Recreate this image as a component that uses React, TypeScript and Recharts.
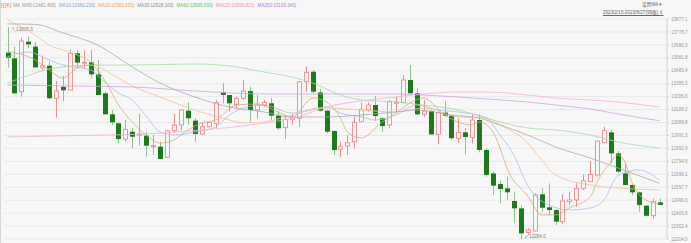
import { ComposedChart, Bar, Line, XAxis, YAxis, CartesianGrid } from "recharts";

// daily K data, 2023/2/15 - 2023/6/27 (95 candles)
const opens = [
  13621, 13578, 13324, 13705, 13667, 13507, 13522, 13274, 13362, 13337,
  13616, 13545, 13548, 13456, 13312, 13152, 13084, 12964, 13020, 12995,
  12990, 12911, 12906, 12825, 13028, 13071, 13180, 13104, 13002, 13058,
  13084, 13319, 13299, 13228, 13274, 13329, 13185, 13223, 13236, 13142,
  13051, 13114, 13122, 13400, 13476, 13319, 13180, 13025, 12886, 12911,
  12944, 13096, 13185, 13223, 13122, 13071, 13236, 13243, 13413, 13312,
  13152, 13177, 13000, 13165, 13142, 12970, 13015, 12975, 13109, 12881,
  12703, 12622, 12589, 12493, 12437, 12254, 12265, 12544, 12445, 12424,
  12336, 12488, 12501, 12589, 12640, 12691, 12936, 13015, 12855, 12703,
  12615, 12559, 12457, 12381, 12483,
];
const highs = [
  13815, 13667, 13735, 13743, 13705, 13598, 13553, 13406, 13446, 13646,
  13641, 13640, 13641, 13565, 13325, 13185, 13091, 13109, 13046, 13155,
  13020, 12995, 12944, 13033, 13155, 13185, 13243, 13122, 13091, 13091,
  13261, 13388, 13299, 13286, 13413, 13362, 13299, 13261, 13279, 13177,
  13147, 13152, 13406, 13514, 13489, 13345, 13185, 13033, 12944, 12995,
  13134, 13243, 13243, 13291, 13134, 13261, 13286, 13451, 13527, 13350,
  13261, 13185, 13172, 13253, 13147, 13122, 13046, 13152, 13152, 12893,
  12716, 12648, 12678, 12564, 12462, 12285, 12551, 12589, 12627, 12430,
  12544, 12564, 12627, 12696, 12792, 12949, 13058, 13033, 12873, 12779,
  12615, 12564, 12462, 12513, 12513,
];
const lows = [
  13507, 13312, 13286, 13654, 13509, 13489, 13270, 13127, 13248, 13337,
  13502, 13500, 13426, 13299, 13152, 13071, 12932, 12944, 12893, 12914,
  12830, 12843, 12812, 12825, 13008, 13033, 13071, 12944, 12995, 13053,
  13046, 13236, 13172, 13198, 13261, 13096, 13122, 13210, 13109, 13033,
  12964, 13071, 13058, 13324, 13312, 13172, 13008, 12843, 12830, 12843,
  12893, 13091, 13172, 13101, 13020, 13046, 13172, 13236, 13312, 13147,
  13134, 12999, 12924, 13134, 12957, 12937, 12848, 12931, 12863, 12678,
  12538, 12475, 12501, 12323, 12204, 12234, 12260, 12412, 12386, 12310,
  12316, 12463, 12450, 12577, 12640, 12678, 12931, 12779, 12703, 12615,
  12538, 12412, 12374, 12356, 12463,
];
const closes = [
  13583, 13312, 13710, 13684, 13509, 13522, 13274, 13329, 13335, 13616,
  13545, 13548, 13456, 13299, 13152, 13091, 12964, 13038, 12982, 13002,
  12914, 12914, 12812, 13028, 13071, 13185, 13122, 13002, 13058, 13091,
  13241, 13299, 13236, 13274, 13329, 13185, 13223, 13243, 13142, 13046,
  13114, 13129, 13400, 13471, 13324, 13180, 13020, 12881, 12906, 12936,
  13091, 13190, 13223, 13139, 13063, 13248, 13246, 13413, 13312, 13152,
  13177, 12999, 13165, 13142, 12970, 13015, 12980, 13109, 12881, 12691,
  12610, 12584, 12559, 12437, 12247, 12272, 12539, 12442, 12424, 12336,
  12493, 12501, 12589, 12647, 12696, 12949, 13028, 12855, 12716, 12615,
  12559, 12463, 12381, 12488, 12463,
];

// moving averages as [candle index, value]
const ma5Pts = [
  [0, 13630], [4, 13565], [6, 13489], [8, 13428], [10, 13505], [12, 13527], [14, 13413],
  [16, 13223], [18, 13094], [20, 12995], [22, 12934], [24, 12957], [26, 13033], [28, 13086],
  [30, 13109], [33, 13223], [36, 13231], [39, 13170], [41, 13132], [44, 13276], [46, 13246],
  [48, 13124], [49, 13018], [51, 12972], [54, 13094], [56, 13162], [58, 13238], [60, 13276],
  [63, 13147], [67, 13071], [68, 13094], [70, 13018], [71, 12896], [72, 12744], [75, 12531],
  [77, 12387], [79, 12387], [81, 12440], [84, 12524], [85, 12638], [87, 12790], [88, 12843],
  [89, 12790], [90, 12638], [92, 12501], [94, 12470],
];
const ma10Pts = [
  [0, 13590], [3, 13626], [6, 13565], [8, 13527], [12, 13489], [14, 13398], [16, 13314],
  [18, 13261], [20, 13140], [22, 13018], [24, 12995], [27, 13018], [30, 13056], [32, 13147],
  [34, 13200], [37, 13223], [41, 13162], [46, 13208], [48, 13162], [51, 13132], [53, 13109],
  [56, 13147], [59, 13223], [62, 13185], [65, 13170], [69, 13124], [71, 12995], [73, 12843],
  [75, 12610], [78, 12463], [81, 12425], [84, 12440], [86, 12501], [88, 12685], [91, 12729],
  [94, 12653],
];
const ma20Pts = [
  [0, 13870], [4, 13755], [6, 13679], [8, 13641], [11, 13581], [13, 13520], [16, 13428],
  [18, 13368], [22, 13284], [27, 13185], [32, 13109], [34, 13086], [37, 13094], [41, 13147],
  [46, 13200], [51, 13185], [56, 13170], [60, 13200], [65, 13132], [69, 13124], [71, 13071],
  [75, 12934], [77, 12805], [79, 12691], [84, 12615], [88, 12592], [94, 12577],
];
const ma30Pts = [
  [0, 13840], [4, 13836], [8, 13771], [13, 13679], [18, 13512], [22, 13390], [27, 13284],
  [32, 13208], [37, 13170], [41, 13132], [46, 13132], [51, 13147], [56, 13170], [59, 13185],
  [64, 13147], [68, 13124], [71, 13071], [75, 12995], [79, 12904], [84, 12820], [88, 12744],
  [94, 12628],
];
const ma60Pts = [
  [0, 13390], [4, 13466], [6, 13497], [8, 13512], [13, 13527], [18, 13527], [27, 13535],
  [32, 13520], [37, 13474], [41, 13436], [44, 13390], [48, 13299], [51, 13261], [56, 13246],
  [60, 13223], [65, 13185], [69, 13124], [75, 13048], [79, 13033], [84, 12995], [88, 12942],
  [94, 12896],
];
const ma120Pts = [
  [0, 12980], [9, 12990], [20, 13003], [28, 13033], [35, 13071], [42, 13135], [46, 13208],
  [51, 13254], [56, 13284], [60, 13307], [65, 13322], [69, 13322], [75, 13299], [79, 13276],
  [84, 13261], [88, 13246], [94, 13207],
];
const ma250Pts = [
  [0, 13375], [9, 13368], [18, 13360], [27, 13330], [37, 13307], [46, 13307], [56, 13307],
  [60, 13299], [65, 13284], [69, 13269], [75, 13246], [79, 13223], [84, 13193], [88, 13155],
  [94, 13103],
];

const maLegend = [
  { name: "MA5", value: "12481.400", color: "#a89a8c" },
  { name: "MA10", value: "12660.200", color: "#7fa3d6" },
  { name: "MA20", value: "12581.550", color: "#f0a868" },
  { name: "MA30", value: "12628.100", color: "#8c8c8c" },
  { name: "MA60", value: "12895.930", color: "#6cc46c" },
  { name: "MA120", value: "13206.810", color: "#ee8fc0" },
  { name: "MA250", value: "13103.340", color: "#b67fcf" },
];

const maLines = [
  { key: "ma5", pts: ma5Pts, color: "#d8aa78" },
  { key: "ma10", pts: ma10Pts, color: "#a4c0e4" },
  { key: "ma20", pts: ma20Pts, color: "#f6bf92" },
  { key: "ma30", pts: ma30Pts, color: "#aaaaaa" },
  { key: "ma60", pts: ma60Pts, color: "#a6d9a6" },
  { key: "ma120", pts: ma120Pts, color: "#f4b0d4" },
  { key: "ma250", pts: ma250Pts, color: "#cfa2df" },
];

const yTicks = [
  12204.0, 12302.4, 12400.8, 12499.3, 12597.7, 12696.1, 12794.5, 12892.9, 12991.3,
  13089.8, 13188.2, 13286.6, 13385.0, 13483.4, 13581.8, 13680.3, 13778.7, 13877.1,
];

const data = opens.map((o, i) => {
  const row: any = { i, open: o, high: highs[i], low: lows[i], close: closes[i] };
  maLines.forEach((m) => {
    const p = m.pts.find((q) => q[0] === i);
    row[m.key] = p ? p[1] : null;
  });
  return row;
});

const maxHigh = Math.max(...highs);
const minLow = Math.min(...lows);

const BG = "#f7f7f7";
const UP = "#f28b8b";
const DOWN = "#1c7a1c";
const FONT = "'Liberation Sans', Arial, 'Noto Sans CJK SC', sans-serif";

const Candle = (props: any) => {
  const { x, y, width, height, payload } = props;
  const { open, close, high, low } = payload;
  const py = (v: number) => y + ((high - v) / (high - low)) * height;
  const cx = Math.round(x + width / 2) + 0.5;
  const up = close >= open;
  const top = py(Math.max(open, close));
  const bot = py(Math.min(open, close));
  const h = Math.max(bot - top, 1);
  return (
    <g>
      {up ? (
        <g>
          <line x1={cx} x2={cx} y1={py(high)} y2={top} stroke={UP} />
          <line x1={cx} x2={cx} y1={top + h} y2={py(low)} stroke={UP} />
          <rect x={cx - 2} y={top} width={4} height={h} fill={BG} stroke={UP} strokeWidth={0.9} />
        </g>
      ) : (
        <g>
          <line x1={cx} x2={cx} y1={py(high)} y2={py(low)} stroke="#8fc08f" />
          <rect x={cx - 2.5} y={top} width={5} height={h} fill={DOWN} />
        </g>
      )}
      {high === maxHigh && (
        <text x={cx + 3} y={py(high) + 4} fontSize={4.6} fill="#777" fontFamily={FONT}>
          {"↖" + maxHigh.toFixed(1)}
        </text>
      )}
      {low === minLow && (
        <text x={cx + 3} y={py(low) - 1} fontSize={4.6} fill="#777" fontFamily={FONT}>
          {"↙" + minLow.toFixed(1)}
        </text>
      )}
    </g>
  );
};

export default function App() {
  return (
    <div style={{ position: "absolute", left: 0, top: 0, width: 691, height: 243, background: BG, fontFamily: FONT }}>
      <div style={{ position: "absolute", left: 0, top: 0, bottom: 0, width: 1, background: "#d6d6d6" }} />
      <div style={{ position: "absolute", left: 1, top: 3, fontSize: 4.6, whiteSpace: "nowrap", lineHeight: "6px" }}>
        <span style={{ color: "#e8662e", marginRight: 2 }}>[日K]</span>
        <span style={{ color: "#999", marginRight: 2 }}>MA</span>
        {maLegend.map((m) => (
          <span key={m.name} style={{ color: m.color, marginRight: 3 }}>
            {m.name}:{m.value}|
          </span>
        ))}
      </div>
      <div style={{ position: "absolute", left: 642, top: 2, fontSize: 4.6, color: "#666", lineHeight: "6px" }}>
        设置MA ▾
      </div>
      <div style={{ position: "absolute", left: 603, top: 10, fontSize: 4.6, color: "#666", lineHeight: "6px", textDecoration: "underline", whiteSpace: "nowrap" }}>
        2023/2/15-2023/6/27(95根) ⇕
      </div>
      <ComposedChart width={691} height={243} data={data} margin={{ top: 19, right: 0, bottom: 4, left: 4 }}>
        <CartesianGrid vertical={false} stroke="#e9e9e9" />
        <XAxis dataKey="i" hide padding={{ left: 0, right: 4 }} />
        <YAxis
          orientation="right"
          width={24}
          domain={[12204.0, 13877.1]}
          ticks={yTicks}
          interval={0}
          allowDataOverflow
          tickSize={2}
          tickFormatter={(v: number) => v.toFixed(1)}
          tick={{ fontSize: 4.6, fill: "#999", fontFamily: FONT }}
          axisLine={{ stroke: "#cfcfcf" }}
          tickLine={{ stroke: "#cfcfcf" }}
        />
        {maLines.map((m) => (
          <Line
            key={m.key}
            dataKey={m.key}
            type="monotone"
            stroke={m.color}
            strokeWidth={0.8}
            dot={false}
            connectNulls
            isAnimationActive={false}
          />
        ))}
        <Bar
          dataKey={(d: any) => [d.low, d.high]}
          barSize={5}
          shape={<Candle />}
          isAnimationActive={false}
        />
      </ComposedChart>
    </div>
  );
}
